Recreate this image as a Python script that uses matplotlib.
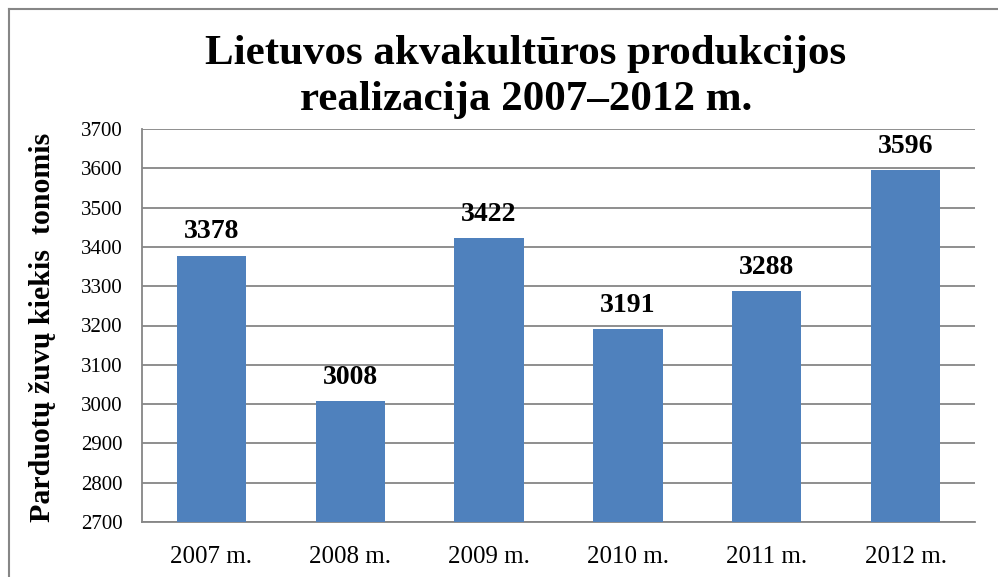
import matplotlib
matplotlib.use('Agg')
import matplotlib.pyplot as plt
from matplotlib.lines import Line2D

# Data
years = ['2007 m.', '2008 m.', '2009 m.', '2010 m.', '2011 m.', '2012 m.']
sold_tonnes = [3378, 3008, 3422, 3191, 3288, 3596]
yticks = list(range(2700, 3701, 100))

plt.rcParams['font.family'] = ['Liberation Serif', 'DejaVu Serif']

fig = plt.figure(figsize=(9.98, 5.77), dpi=100, facecolor='white')
ax = fig.add_axes([142 / 998, 1 - 522 / 577, (975 - 142) / 998, (522 - 129) / 577])

x = range(len(years))
bars = ax.bar(x, sold_tonnes, width=0.5, color='#4F81BD', zorder=3)

ax.set_ylim(2700, 3700)
ax.set_xlim(-0.5, len(years) - 0.5)
ax.set_yticks(yticks)
ax.set_xticks(list(x))
ax.set_xticklabels(years, fontsize=18)
ax.tick_params(axis='y', labelsize=15, length=0, pad=14)
ax.tick_params(axis='x', length=0, pad=17)

ax.grid(axis='y', color='#868686', linewidth=1.3, zorder=0)
for side in ['top', 'right']:
    ax.spines[side].set_visible(False)
for side in ['left', 'bottom']:
    ax.spines[side].set_color('#868686')
    ax.spines[side].set_linewidth(1.3)

for b, v in zip(bars, sold_tonnes):
    ax.annotate(str(v), (b.get_x() + b.get_width() / 2, v),
                xytext=(0, 8), textcoords='offset points',
                ha='center', va='bottom', fontsize=20, fontweight='bold')

fig.text(43 / 998, 1 - 327 / 577, 'Parduotų žuvų kiekis  tonomis', rotation=90,
         ha='center', va='center', fontsize=21.5, fontweight='bold')

fig.text(526 / 998, 1 - 77 / 577, 'Lietuvos akvakultūros produkcijos\nrealizacija 2007–2012 m.',
         ha='center', va='center', fontsize=31, fontweight='bold', linespacing=1.25)

# outer chart frame (left and top edges visible)
fig.add_artist(Line2D([9 / 998, 9 / 998], [0, 1 - 9 / 577], transform=fig.transFigure,
                      color='#868686', linewidth=1.5))
fig.add_artist(Line2D([9 / 998, 1], [1 - 9 / 577, 1 - 9 / 577], transform=fig.transFigure,
                      color='#868686', linewidth=1.5))

fig.savefig('out.png', dpi=100)
